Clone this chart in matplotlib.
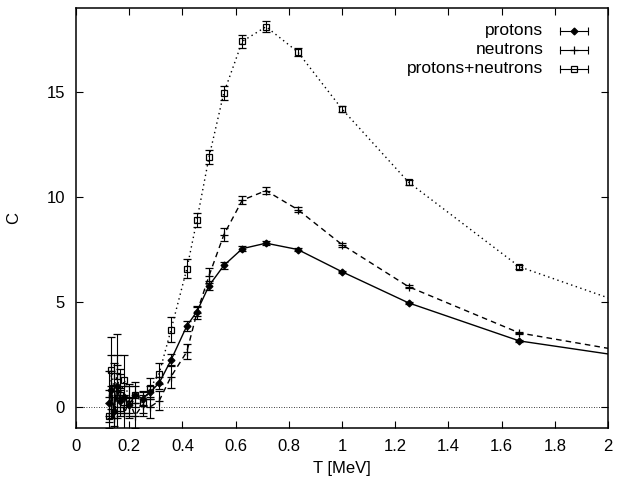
import matplotlib
matplotlib.use('Agg')
import matplotlib.pyplot as plt
import matplotlib as mpl

# plot parameters
mpl.rcParams['font.family'] = ['Liberation Sans', 'DejaVu Sans']
mpl.rcParams['font.size'] = 12.0
mpl.rcParams['xtick.direction'] = 'in'
mpl.rcParams['ytick.direction'] = 'in'
mpl.rcParams['xtick.top'] = True
mpl.rcParams['ytick.right'] = True
mpl.rcParams['xtick.major.size'] = 5
mpl.rcParams['ytick.major.size'] = 5
mpl.rcParams['axes.linewidth'] = 1.1

# temperatures [MeV]
T = [0.125, 0.1333, 0.1429, 0.1538, 0.1667, 0.1818, 0.2, 0.2222, 0.25, 0.2778,
     0.3125, 0.3571, 0.4167, 0.4545, 0.5, 0.5556, 0.625, 0.7143, 0.8333, 1.0,
     1.25, 1.6667, 2.5]

C_prot = [0.2, 0.8, -0.2, 1.0, 0.3, 0.5, 0.1, 0.6, 0.4, 0.7,
          1.15, 2.24, 3.87, 4.55, 5.78, 6.74, 7.54, 7.8, 7.5, 6.44,
          4.96, 3.15, 1.6]
err_prot = [0.6, 0.9, 0.7, 1.0, 0.6, 0.5, 0.4, 0.4, 0.35, 0.3,
            0.3, 0.3, 0.25, 0.2, 0.2, 0.15, 0.12, 0.1, 0.08, 0.06,
            0.05, 0.04, 0.03]

C_neut = [0.5, 1.0, -0.5, 0.6, 0.8, -0.3, 0.3, -0.4, 0.1, 0.0,
          0.3, 1.45, 2.64, 4.5, 6.25, 8.2, 9.85, 10.3, 9.4, 7.73,
          5.73, 3.53, 1.7]
err_neut = [1.2, 1.5, 1.0, 1.9, 1.0, 0.9, 0.8, 0.6, 0.5, 0.5,
            0.45, 0.55, 0.35, 0.3, 0.35, 0.3, 0.2, 0.18, 0.12, 0.1,
            0.08, 0.06, 0.05]

C_both = [-0.4, 1.75, 0.9, 1.5, 0.6, 1.3, 0.3, 0.6, 0.2, 0.9,
          1.6, 3.68, 6.59, 8.9, 11.9, 14.95, 17.4, 18.1, 16.9, 14.18,
          10.7, 6.68, 2.98]
err_both = [0.6, 1.6, 1.2, 2.0, 1.0, 1.2, 0.7, 0.6, 0.5, 0.5,
            0.5, 0.6, 0.45, 0.35, 0.35, 0.35, 0.3, 0.25, 0.2, 0.15,
            0.12, 0.1, 0.08]

labels = ['protons', 'neutrons', 'protons+neutrons']

fig = plt.figure(figsize=(6.18, 4.86), dpi=100)
ax = fig.add_axes([0.123, 0.119, 0.861, 0.865])

# zero line
ax.axhline(0, color='black', lw=0.6, ls=(0, (1, 2)))

styles = [('-', 'D', 3.5, 'black'),
          ((0, (4, 3)), '+', 6, 'none'),
          ((0, (1, 2.5)), 's', 5, 'none')]
series = [(C_prot, err_prot), (C_neut, err_neut), (C_both, err_both)]

for (vals, errs), (ls, mk, ms, mfc) in zip(series, styles):
    ax.plot(T, vals, ls=ls, color='black', lw=1.0)
    ax.errorbar(T, vals, yerr=errs, fmt=mk, ms=ms, mfc=mfc, mec='black',
                mew=0.9, ecolor='black', elinewidth=0.8, capsize=3, capthick=0.8)

# gnuplot style key
ys = [0.945, 0.9, 0.855]
for lab, y, (ls, mk, ms, mfc) in zip(labels, ys, styles):
    ax.text(0.878, y, lab, ha='right', va='center', fontsize=12.5,
            transform=ax.transAxes)
    ax.plot([0.91, 0.962], [y, y], color='black', lw=0.8, transform=ax.transAxes)
    ax.plot([0.91, 0.962], [y, y], ls='none', marker='|', ms=6, mew=0.8,
            color='black', transform=ax.transAxes)
    ax.plot([0.936], [y], ls='none', marker=mk, ms=ms, mfc=mfc, mec='black',
            mew=0.9, transform=ax.transAxes)

ax.set_xlim(0, 2)
ax.set_ylim(-1, 19)
ax.set_xticks([0, 0.2, 0.4, 0.6, 0.8, 1, 1.2, 1.4, 1.6, 1.8, 2])
ax.set_xticklabels(['0', '0.2', '0.4', '0.6', '0.8', '1', '1.2', '1.4', '1.6', '1.8', '2'])
ax.set_yticks([0, 5, 10, 15])
ax.tick_params(pad=8)
ax.set_xlabel('T [MeV]', labelpad=5)
ax.set_ylabel('C', labelpad=18)

fig.savefig('out.png', dpi=100)
